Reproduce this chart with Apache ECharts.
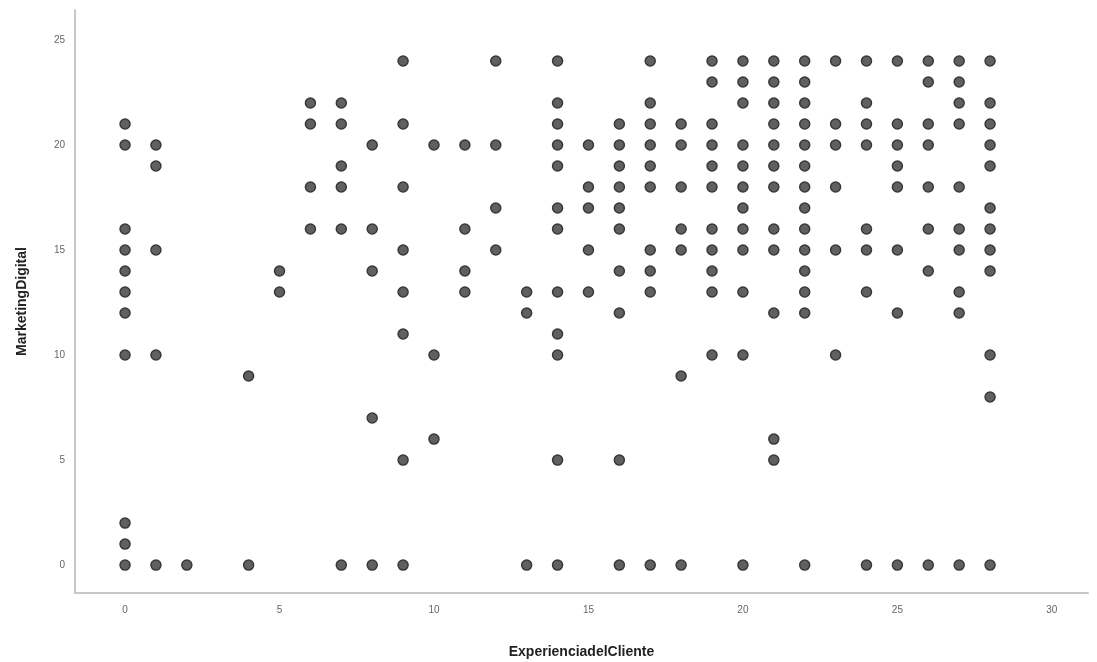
<!DOCTYPE html>
<html>
<head>
<meta charset="utf-8">
<script src="https://cdn.jsdelivr.net/npm/echarts@6/dist/echarts.min.js"></script>
<style>html,body{margin:0;padding:0;background:#fff;}#chart{width:1097px;height:662px;}</style>
</head>
<body>
<div id="chart"></div>
<script>
// ExperienciadelCliente values (x) and the MarketingDigital values (y) seen at each
const experiencia = [0, 1, 2, 4, 5, 6, 7, 8, 9, 10, 11, 12, 13, 14, 15, 16, 17, 18, 19, 20, 21, 22, 23, 24, 25, 26, 27, 28];
const marketingPorExperiencia = [
  [21, 20, 16, 15, 14, 13, 12, 10, 2, 1, 0],            // 0
  [20, 19, 15, 10, 0],                                  // 1
  [0],                                                  // 2
  [9, 0],                                               // 4
  [14, 13],                                             // 5
  [22, 21, 18, 16],                                     // 6
  [22, 21, 19, 18, 16, 0],                              // 7
  [20, 16, 14, 7, 0],                                   // 8
  [24, 21, 18, 15, 13, 11, 5, 0],                       // 9
  [20, 10, 6],                                          // 10
  [20, 16, 14, 13],                                     // 11
  [24, 20, 17, 15],                                     // 12
  [13, 12, 0],                                          // 13
  [24, 22, 21, 20, 19, 17, 16, 13, 11, 10, 5, 0],       // 14
  [20, 18, 17, 15, 13],                                 // 15
  [21, 20, 19, 18, 17, 16, 14, 12, 5, 0],               // 16
  [24, 22, 21, 20, 19, 18, 15, 14, 13, 0],              // 17
  [21, 20, 18, 16, 15, 9, 0],                           // 18
  [24, 23, 21, 20, 19, 18, 16, 15, 14, 13, 10],         // 19
  [24, 23, 22, 20, 19, 18, 17, 16, 15, 13, 10, 0],      // 20
  [24, 23, 22, 21, 20, 19, 18, 16, 15, 12, 6, 5],       // 21
  [24, 23, 22, 21, 20, 19, 18, 17, 16, 15, 14, 13, 12, 0], // 22
  [24, 21, 20, 18, 15, 10],                             // 23
  [24, 22, 21, 20, 16, 15, 13, 0],                      // 24
  [24, 21, 20, 19, 18, 15, 12, 0],                      // 25
  [24, 23, 21, 20, 18, 16, 14, 0],                      // 26
  [24, 23, 22, 21, 18, 16, 15, 13, 12, 0],              // 27
  [24, 22, 21, 20, 19, 17, 16, 15, 14, 10, 8, 0]        // 28
];
const xTicks = [0, 5, 10, 15, 20, 25, 30];
const yTicks = [0, 5, 10, 15, 20, 25];
const xTitle = 'ExperienciadelCliente';
const yTitle = 'MarketingDigital';

const points = [];
experiencia.forEach((x, i) => {
  marketingPorExperiencia[i].forEach(y => points.push([x, y]));
});

const chart = echarts.init(document.getElementById('chart'), null, {renderer: 'canvas'});
const axisLineStyle = {color: '#c8c8c8', width: 2};
chart.setOption({
  animation: false,
  backgroundColor: '#ffffff',
  grid: {left: 75, right: 9, top: 10, bottom: 69, containLabel: false, outerBoundsMode: 'none'},
  xAxis: {
    type: 'value',
    min: -1.62, max: 31.17,
    name: xTitle,
    nameLocation: 'middle',
    nameGap: 52,
    nameTextStyle: {fontFamily: 'Liberation Sans, Arial, sans-serif', fontSize: 14, fontWeight: 'bold', color: '#222'},
    axisLine: {show: true, onZero: false, lineStyle: axisLineStyle},
    axisTick: {show: false},
    splitLine: {show: false},
    axisLabel: {
      customValues: xTicks,
      margin: 12,
      fontFamily: 'Liberation Sans, Arial, sans-serif', fontSize: 10, color: '#666'
    }
  },
  yAxis: {
    type: 'value',
    min: -1.33, max: 26.43,
    name: yTitle,
    nameLocation: 'middle',
    nameGap: 46,
    nameTextStyle: {fontFamily: 'Liberation Sans, Arial, sans-serif', fontSize: 14, fontWeight: 'bold', color: '#222'},
    axisLine: {show: true, onZero: false, lineStyle: axisLineStyle},
    axisTick: {show: false},
    splitLine: {show: false},
    axisLabel: {
      customValues: yTicks,
      margin: 10,
      fontFamily: 'Liberation Sans, Arial, sans-serif', fontSize: 10, color: '#666'
    }
  },
  series: [{
    type: 'scatter',
    data: points,
    symbol: 'circle',
    symbolSize: 10,
    itemStyle: {color: '#606060', borderColor: '#383838', borderWidth: 1.5, opacity: 1}
  }]
});
</script>
</body>
</html>
